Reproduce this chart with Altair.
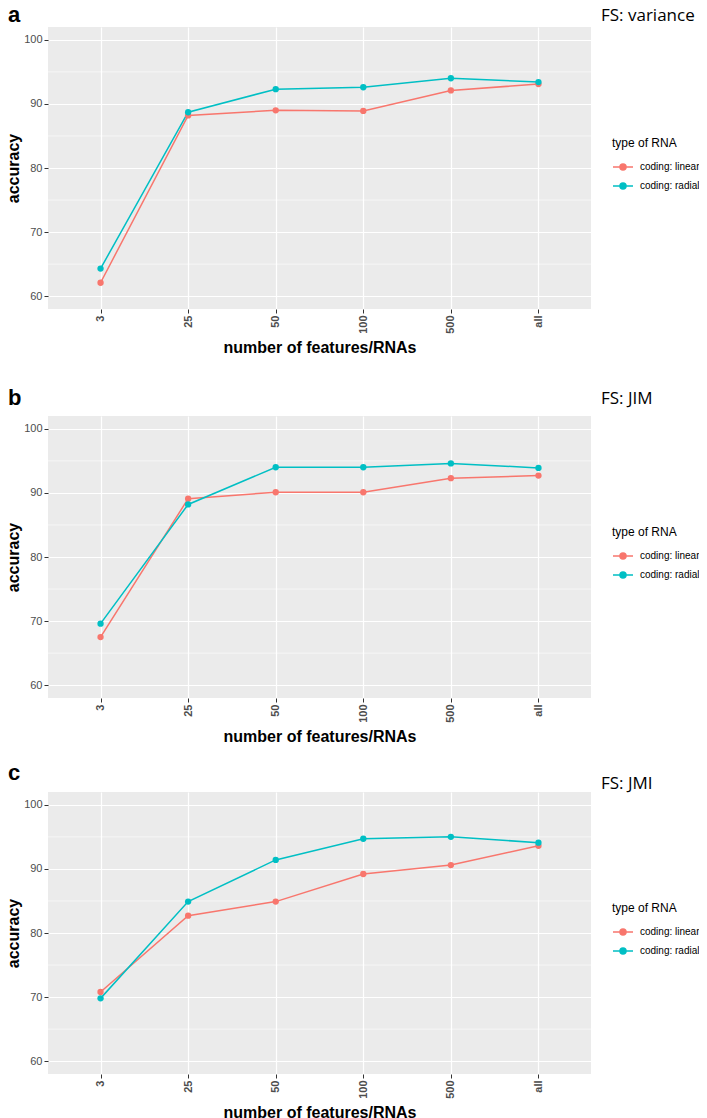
import altair as alt
import pandas as pd

categories = ["3", "25", "50", "100", "500", "all"]
series_names = ["coding: linear", "coding: radial"]
series_colors = ["#F8766D", "#00BFC4"]

var_linear = [62.1, 88.2, 89.0, 88.9, 92.1, 93.1]
var_radial = [64.3, 88.7, 92.3, 92.6, 94.0, 93.4]
jim_linear = [67.5, 89.1, 90.1, 90.1, 92.3, 92.7]
jim_radial = [69.6, 88.2, 94.0, 94.0, 94.6, 93.9]
jmi_linear = [70.8, 82.7, 84.9, 89.2, 90.6, 93.6]
jmi_radial = [69.8, 84.9, 91.4, 94.7, 95.0, 94.1]

panel_letters = ["a", "b", "c"]
panel_titles = ["FS: variance", "FS: JIM", "FS: JMI"]

y_ticks = [60, 70, 80, 90, 100]
y_minor = [65, 75, 85, 95]
y_domain = [58, 102]

FONT = "Liberation Sans"
LEGEND_SYMBOL = "M-1,0L1,0M-0.3,0A0.3,0.3,0,1,0,0.3,0A0.3,0.3,0,1,0,-0.3,0Z"


def panel(letter, title, linear, radial, letter_dx, letter_dy, title_dy, width=543, height=282):
    df = pd.DataFrame({
        "n": categories * 2,
        "acc": linear + radial,
        "type": [series_names[0]] * len(categories) + [series_names[1]] * len(categories),
    })
    x_enc = alt.X(
        "n:N",
        sort=categories,
        scale=alt.Scale(type="point", padding=0.6),
        axis=alt.Axis(
            title="number of features/RNAs",
            labelAngle=270,
            labelFontWeight="bold",
            labelFontSize=11,
            labelColor="#4D4D4D",
            labelFont=FONT,
            tickColor="#333333",
            tickSize=4,
            labelPadding=2,
            titleFontSize=16,
            titleFontWeight="bold",
            titleFont=FONT,
            titleColor="black",
            titlePadding=6,
            grid=True,
            gridColor="white",
            gridWidth=1.2,
            domain=False,
        ),
    )
    y_enc = alt.Y(
        "acc:Q",
        scale=alt.Scale(domain=y_domain, nice=False, zero=False),
        axis=alt.Axis(
            values=y_ticks,
            title="accuracy",
            labelFontSize=11,
            labelColor="#4D4D4D",
            labelFont=FONT,
            tickColor="#333333",
            tickSize=4,
            labelPadding=2,
            titleFontSize=16,
            titleFontWeight="bold",
            titleFont=FONT,
            titleColor="black",
            titlePadding=2.5,
            grid=True,
            gridColor="white",
            gridWidth=1.2,
            domain=False,
        ),
    )
    color_enc = alt.Color(
        "type:N",
        scale=alt.Scale(domain=series_names, range=series_colors),
        legend=alt.Legend(
            title="type of RNA",
            orient="none",
            legendX=564,
            legendY=111,
            titleFont=FONT,
            titleFontSize=12,
            titleFontWeight="normal",
            titleColor="black",
            titlePadding=6,
            labelFont=FONT,
            labelFontSize=10,
            labelColor="black",
            labelOffset=6,
            symbolType=LEGEND_SYMBOL,
            symbolSize=400,
            symbolStrokeWidth=1.5,
            rowPadding=2,
        ),
    )
    minor = alt.Chart(pd.DataFrame({"acc": y_minor})).mark_rule(
        color="white", strokeWidth=0.6
    ).encode(y=y_enc)
    line = alt.Chart(df).mark_line(strokeWidth=1.5).encode(x=x_enc, y=y_enc, color=color_enc)
    pts = alt.Chart(df).mark_circle(size=40, opacity=1).encode(x=x_enc, y=y_enc, color=color_enc)
    let = alt.Chart(pd.DataFrame({"t": [letter]})).mark_text(
        align="left", baseline="alphabetic", font=FONT, fontSize=22, fontWeight="bold", color="black"
    ).encode(x=alt.value(letter_dx), y=alt.value(letter_dy), text="t:N")
    ttl = alt.Chart(pd.DataFrame({"t": [title]})).mark_text(
        align="left", baseline="alphabetic", font="Open Sans", fontSize=17, color="black"
    ).encode(x=alt.value(553), y=alt.value(title_dy), text="t:N")
    return alt.layer(minor, line, pts, let, ttl).properties(
        width=width, height=height,
        view=alt.ViewBackground(fill="#EBEBEB", strokeWidth=0),
    )


def spacer(w, h):
    return alt.Chart(pd.DataFrame({"v": [0]})).mark_point(opacity=0).properties(
        width=w, height=h, view=alt.ViewBackground(strokeWidth=0)
    )


pa = panel(panel_letters[0], panel_titles[0], var_linear, var_radial, -40, -5, -6)
pb = panel(panel_letters[1], panel_titles[1], jim_linear, jim_radial, -40, -11, -12)
pc = panel(panel_letters[2], panel_titles[2], jmi_linear, jmi_radial, -40, -12, -3)

chart = alt.concat(
    spacer(40, 295), pa,
    spacer(40, 282), pb,
    spacer(40, 282), pc,
    columns=2,
    align={"row": "each", "column": "none"},
    bounds="flush",
    spacing={"row": 94, "column": 0},
).resolve_scale(
    color="independent", x="independent", y="independent"
).resolve_legend(color="independent").properties(
    autosize=alt.AutoSizeParams(type="none"),
    padding={"left": 0, "top": 19, "right": 691, "bottom": 1091},
).configure_view(strokeWidth=0)

chart.save("out.html", embed_options={"renderer": "svg", "actions": False})
